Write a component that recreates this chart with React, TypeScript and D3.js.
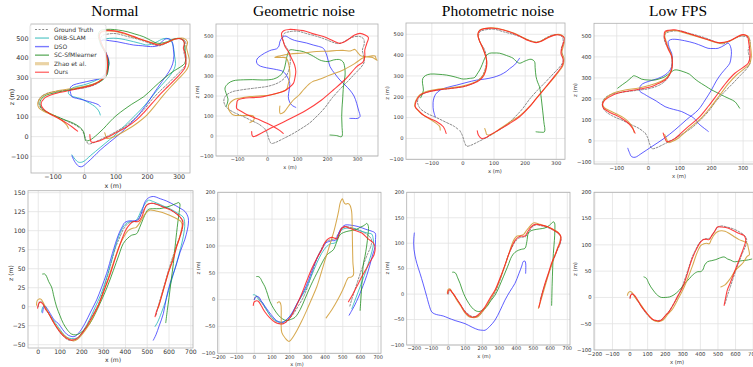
import React from 'react';
import * as d3 from 'd3';

type P = [number, number];

// ---------- labels / ticks ----------
const legendLabels = ['Ground Truth', 'ORB-SLAM', 'DSO', 'SC-SfMlearner', 'Zhao et al.', 'Ours'];
const seriesKeys = ['gt', 'orb', 'dso', 'sc', 'zhao', 'ours'];
const panelTitles = ['Normal', 'Geometric noise', 'Photometric noise', 'Low FPS'];
const topXTicks = [-100, 0, 100, 200, 300];
const topYTicks = [-100, 0, 100, 200, 300, 400, 500];
const normalBottomYTicks = [-50, -25, 0, 25, 50, 75, 100, 125, 150];
const normalBottomXTicks = [0, 100, 200, 300, 400, 500, 600, 700];
const wideBottomXTicks = [-200, -100, 0, 100, 200, 300, 400, 500, 600, 700];
const bottomYTicks = [-100, -50, 0, 50, 100, 150, 200];

// ---------- top row (x, z) ----------
const gtTop: P[] = [[-10,38],[-2,15],[5,-18],[12,-37],[25,-33],[50,-15],[80,8],[110,35],[140,65],[165,100],[190,140],[215,190],[240,232],[265,270],[290,310],[312,345],[322,370],[320,400],[316,430],[322,460],[320,485],[308,497],[290,497],[270,485],[250,468],[235,462],[215,470],[190,485],[160,500],[130,512],[100,524],[75,522],[55,512],[50,490],[55,462],[68,430],[75,395],[74,350],[62,300],[40,270],[5,250],[-40,240],[-90,230],[-120,220],[-140,200],[-146,175],[-138,145],[-115,120],[-85,100],[-55,78],[-28,58],[-14,42]];

const orbNormalTop: P[] = [[-40,-93],[-30,-115],[-19,-130],[-5,-128],[20,-95],[50,-55],[80,-15],[103,17],[140,75],[178,136],[205,185],[231,237],[255,280],[273,314],[285,345],[289,373],[286,410],[284,441],[280,470],[273,492],[260,500],[245,495],[231,483],[215,472],[199,466],[178,474],[156,483],[130,493],[103,500],[80,500],[61,495],[50,483],[52,462],[61,441],[72,405],[77,373],[75,340],[71,314],[55,298],[39,288],[15,272],[-3,263],[-25,255],[-40,246],[-50,232],[-51,220],[-45,210],[-35,203],[-10,192],[7,178],[25,162],[39,144],[47,125],[50,110]];
const dsoNormalTop: P[] = [[-40,-98],[-32,-125],[-19,-150],[-9,-153],[10,-130],[30,-100],[50,-68],[80,-28],[114,17],[140,58],[167,102],[195,160],[220,220],[245,278],[268,330],[280,370],[284,415],[282,445],[280,475],[272,495],[258,497],[245,482],[231,462],[210,458],[185,462],[156,466],[130,474],[103,483],[80,488],[61,491],[52,485],[54,465],[61,449],[70,420],[77,390],[76,355],[71,331],[62,312],[50,297],[30,288],[7,280],[-15,272],[-35,263],[-44,252],[-46,237],[-44,220],[-40,203],[-20,193],[-3,186],[15,178],[34,169],[44,162],[50,153]];
const scNormalTop: P[] = [[8,-22],[18,-17],[40,10],[60,40],[80,75],[103,110],[150,165],[188,203],[220,250],[252,296],[280,330],[306,356],[318,372],[322,400],[321,424],[318,455],[316,483],[308,497],[295,500],[278,494],[263,483],[245,476],[231,475],[210,490],[188,508],[160,522],[135,534],[108,542],[82,546],[62,544],[50,539],[44,520],[45,500],[52,470],[61,441],[70,410],[77,381],[75,345],[71,314],[62,295],[50,280],[25,266],[-3,254],[-40,240],[-78,229],[-100,221],[-120,212],[-135,196],[-141,178],[-141,160],[-136,144],[-120,126],[-99,110],[-70,90],[-35,68],[-15,48],[-3,25],[0,0],[3,-20]];
const zhaoNormalTop: P[] = [[64,20],[67,5],[70,-8],[85,-6],[110,12],[140,40],[170,72],[198,110],[225,160],[250,210],[275,255],[302,300],[322,335],[330,358],[333,390],[328,425],[324,455],[327,482],[314,500],[294,499],[268,483],[242,469],[216,477],[186,491],[156,507],[126,523],[96,536],[70,537],[52,530],[46,507],[50,486],[59,455],[68,420],[72,385],[70,330],[58,296],[30,268],[-10,252],[-60,240],[-105,226],[-135,205],[-148,175],[-146,150],[-128,128],[-98,108],[-72,82],[-57,60],[-51,42]];
const oursNormalTop: P[] = [[17,10],[18,-10],[22,-28],[40,-25],[70,-5],[100,20],[135,50],[165,85],[190,125],[215,170],[240,215],[265,255],[290,295],[310,330],[320,355],[322,390],[320,420],[314,450],[317,480],[305,498],[285,495],[260,478],[235,466],[210,478],[185,492],[155,510],[125,527],[95,538],[70,540],[52,532],[47,510],[50,490],[59,455],[69,420],[73,380],[70,320],[55,290],[25,262],[-10,248],[-56,232],[-100,216],[-128,195],[-138,165],[-130,140],[-112,118],[-85,95],[-58,70],[-38,48],[-22,28]];

const dsoGeoTop: P[] = [[94,143],[80,155],[72,175],[69,197],[72,230],[74,263],[66,295],[52,322],[30,332],[8,338],[-15,345],[-31,355],[-37,370],[-35,385],[-20,405],[0,422],[13,430],[30,436],[38,450],[41,472],[48,490],[58,500],[66,496],[74,488],[90,478],[108,472],[130,465],[152,455],[170,448],[186,438],[198,400],[208,347],[225,310],[241,280],[258,255],[274,230],[288,200],[297,163],[303,130],[308,97],[300,88],[285,88],[274,88]];
const scGeoTop: P[] = [[208,5],[230,2],[247,-3],[248,50],[247,97],[248,140],[250,180],[253,250],[258,300],[258,330],[252,370],[240,382],[219,380],[202,372],[185,375],[174,380],[160,392],[145,405],[119,422],[95,428],[74,430],[67,410],[63,388],[58,350],[52,322],[40,300],[20,285],[-14,280],[-50,282],[-81,281],[-115,276],[-132,262],[-142,240],[-138,212],[-132,185],[-134,165],[-138,148]];
const zhaoGeoTop: P[] = [[41,150],[40,130],[42,112],[55,120],[70,150],[86,180],[105,205],[119,230],[140,262],[150,272],[170,282],[208,305],[252,330],[290,362],[320,392],[345,400],[358,400],[362,385],[365,378],[350,392],[325,397],[310,402],[300,418],[291,433],[275,425],[255,428],[230,427],[200,424],[163,422],[120,415],[74,410],[40,400],[24,393],[45,393],[62,390],[71,355],[74,320],[74,297],[68,255],[63,233],[35,215],[8,205],[-30,200],[-59,197],[-90,190],[-114,180],[-128,160],[-131,147],[-125,120],[-114,105],[-80,102],[-48,100],[-46,80],[-59,67]];
const oursGeoTop: P[] = [[-53,22],[-52,5],[-48,-3],[-20,15],[8,38],[60,75],[130,130],[180,180],[219,230],[260,285],[297,347],[319,372],[324,400],[324,430],[330,460],[336,492],[325,505],[308,513],[290,505],[274,488],[255,470],[241,463],[220,475],[186,497],[150,512],[119,527],[90,532],[74,533],[55,528],[47,515],[47,497],[52,475],[58,447],[70,420],[80,388],[90,355],[94,322],[91,290],[86,263],[70,240],[52,222],[20,210],[-14,197],[-50,192],[-81,188],[-100,178],[-103,160],[-103,138],[-90,125],[-76,113],[-50,95],[-26,80],[0,62],[19,47],[40,28],[52,13]];

const dsoPhotoTop: P[] = [[182,385],[175,370],[166,353],[150,335],[139,321],[120,305],[97,293],[70,285],[44,280],[10,268],[-20,256],[-50,245],[-73,232],[-88,212],[-95,184],[-96,160],[-95,136],[-89,104]];
const scPhotoTop: P[] = [[235,32],[250,30],[262,32],[260,80],[256,136],[252,190],[246,248],[240,270],[235,296],[232,340],[230,369],[219,380],[200,372],[182,361],[170,372],[161,385],[140,398],[118,409],[100,410],[86,409],[75,398],[70,385],[62,355],[54,329],[45,308],[38,293],[20,288],[1,285],[-25,295],[-52,304],[-80,308],[-105,309],[-120,302],[-129,288],[-130,265],[-127,232],[-132,208],[-136,195]];
const zhaoPhotoTop: P[] = [[70,48],[74,30],[76,20],[90,18],[120,48],[150,78],[185,112],[215,155],[240,200],[270,252],[300,305],[322,352],[325,385],[318,410],[323,445],[328,478],[316,497],[300,499],[276,487],[250,467],[235,462],[210,472],[190,487],[161,507],[130,522],[97,531],[70,528],[54,520],[48,500],[52,473],[62,440],[70,409],[76,375],[75,345],[66,305],[50,280],[25,262],[-5,250],[-45,242],[-90,234],[-120,224],[-140,208],[-152,180],[-155,155],[-142,130],[-125,110],[-105,92],[-88,75],[-75,58],[-73,40]];
const oursPhotoTop: P[] = [[46,37],[50,15],[60,0],[75,5],[86,16],[120,45],[150,72],[182,104],[210,145],[235,190],[267,248],[295,300],[320,353],[322,380],[315,409],[320,445],[326,481],[315,495],[299,497],[275,485],[250,465],[235,460],[210,470],[190,485],[161,505],[130,520],[97,529],[70,527],[54,518],[48,500],[52,473],[62,440],[70,409],[76,375],[76,345],[68,305],[54,280],[30,262],[1,248],[-40,240],[-84,232],[-115,222],[-137,208],[-150,180],[-153,152],[-140,130],[-127,112],[-105,95],[-84,80],[-63,56],[-54,24]];

const dsoLowTop: P[] = [[-65,-35],[-60,-55],[-53,-75],[-42,-78],[-20,-58],[11,-27],[50,12],[84,52],[120,100],[158,148],[180,195],[200,243],[215,285],[232,322],[248,350],[258,370],[262,400],[263,425],[260,450],[253,465],[240,455],[221,441],[205,440],[189,441],[170,452],[147,465],[115,477],[84,484],[70,482],[63,473],[66,445],[74,417],[76,385],[74,354],[65,330],[53,314],[30,297],[0,283],[-18,272],[-26,259],[-27,245],[-26,235],[-12,222],[0,211],[25,190],[53,163],[80,150],[105,140],[125,125],[137,116],[150,100],[158,84],[170,68],[184,52],[190,45]];
const scLowTop: P[] = [[-97,251],[-82,268],[-68,283],[-55,300],[-47,310],[-35,305],[-21,294],[0,290],[21,290],[40,298],[53,306],[70,325],[84,338],[97,336],[110,330],[130,318],[145,298],[158,283],[180,262],[200,243],[220,228],[242,211],[258,200],[274,187],[282,172],[289,156]];
const zhaoLowTop: P[] = [[52,30],[58,8],[64,-8],[75,-3],[92,10],[128,58],[165,105],[198,162],[228,222],[255,275],[280,315],[305,345],[320,365],[326,400],[325,433],[322,465],[318,495],[308,503],[295,503],[280,493],[263,479],[240,468],[221,466],[190,480],[158,495],[120,512],[84,526],[65,524],[55,518],[52,500],[55,481],[64,440],[74,405],[76,370],[73,338],[62,308],[48,290],[25,275],[5,265],[-30,252],[-74,242],[-110,228],[-137,200],[-145,178],[-140,160],[-120,142],[-100,128],[-80,112],[-62,90],[-50,65],[-45,40]];
const oursLowTop: P[] = [[47,37],[52,15],[58,-3],[70,0],[85,12],[120,60],[158,108],[190,165],[221,227],[248,280],[274,322],[300,350],[316,370],[322,400],[321,433],[318,465],[314,497],[305,505],[295,505],[280,495],[263,481],[240,470],[221,468],[190,482],[158,497],[120,515],[84,529],[65,527],[53,521],[50,500],[53,481],[62,440],[74,402],[76,370],[74,338],[65,310],[53,290],[30,272],[11,259],[-30,246],[-74,235],[-110,220],[-137,195],[-145,175],[-142,156],[-125,138],[-105,124],[-85,108],[-63,84],[-50,60],[-42,37]];

// ---------- bottom row (x, z) ----------
const gtBottom: P[] = [[0,0],[4,5],[10,7],[20,5],[35,-3],[50,-10],[70,-20],[95,-32],[120,-40],[140,-44],[160,-44],[180,-42],[200,-35],[222,-26],[250,-11],[278,5],[305,28],[332,55],[355,78],[375,92],[395,104],[415,110],[440,112],[455,113],[470,120],[485,128],[500,134],[520,136],[550,134],[590,130],[625,124],[650,118],[662,112],[662,104],[655,96],[640,85],[620,68],[600,50],[580,30],[565,15],[552,2],[540,-12]];

const orbNormalBottom: P[] = [[15,-7],[22,0],[31,1],[40,-5],[55,-12],[80,-22],[105,-32],[130,-40],[160,-42],[185,-40],[210,-30],[235,-17],[262,0],[290,18],[318,42],[345,70],[370,93],[395,107],[420,112],[440,112],[455,116],[470,125],[485,133],[505,140],[530,138],[570,133],[610,128],[645,122],[665,118],[672,110],[670,100],[660,85],[645,68],[625,48],[605,28],[585,8],[565,-8],[548,-20],[536,-26]];
const dsoNormalBottom: P[] = [[20,-8],[24,-2],[31,1],[40,-2],[55,-9],[75,-18],[92,-22],[112,-30],[130,-36],[150,-39],[168,-39],[190,-33],[214,-22],[240,-7],[268,9],[290,25],[314,44],[340,70],[367,94],[385,105],[398,111],[420,113],[444,113],[459,115],[475,125],[490,138],[505,143],[528,145],[560,142],[589,139],[630,133],[660,128],[674,125],[688,117],[689,110],[684,101],[672,88],[651,72],[630,52],[605,31],[588,12],[574,-9],[555,-25],[540,-37],[528,-44]];
const scNormalBottom: P[] = [[20,43],[30,43],[38,40],[48,33],[61,26],[72,13],[84,0],[100,-12],[115,-22],[135,-31],[153,-36],[172,-37],[191,-35],[215,-29],[237,-22],[260,-10],[283,4],[315,25],[345,48],[370,68],[390,83],[410,90],[428,94],[451,96],[465,104],[482,116],[495,124],[505,128],[530,129],[558,129],[600,132],[635,136],[645,137],[650,135],[648,128],[640,110],[630,85],[620,57],[610,35],[600,12],[592,-5],[585,-21]];
const zhaoNormalBottom: P[] = [[-8,2],[-5,8],[2,10],[12,10],[22,6],[35,-2],[50,-10],[70,-20],[95,-30],[120,-38],[145,-43],[160,-45],[180,-43],[205,-35],[230,-25],[258,-10],[285,8],[315,32],[345,58],[372,80],[395,93],[412,100],[430,103],[448,104],[460,108],[475,115],[490,122],[510,127],[540,126],[570,124],[605,120],[640,115],[655,112],[660,108],[656,100],[645,88],[630,75],[612,58],[592,40],[575,23],[562,10],[550,-2]];
const oursNormalBottom: P[] = [[-3,-2],[2,4],[8,6],[20,4],[35,-4],[46,-8],[65,-18],[84,-27],[105,-35],[122,-40],[140,-43],[153,-44],[176,-42],[200,-35],[222,-26],[250,-12],[276,2],[300,20],[329,42],[355,65],[383,88],[400,100],[413,106],[436,112],[459,112],[475,118],[486,127],[498,134],[521,136],[550,134],[574,131],[610,127],[640,121],[651,118],[663,113],[662,105],[658,100],[648,90],[636,80],[620,63],[597,45],[580,28],[567,15],[555,3],[544,-5],[536,-13]];

const orbGeoBottom: P[] = [[-6,9],[2,9],[10,7],[20,2],[30,-2],[42,-4],[60,-14],[80,-25],[98,-33],[125,-40],[155,-42],[180,-38],[211,-27],[245,-6],[287,17],[320,42],[353,68],[380,86],[409,99],[430,104],[457,106],[475,118],[494,130],[520,133],[551,133],[600,128],[640,124],[664,122],[672,113],[674,105],[665,90],[645,68],[625,48],[598,24],[575,4],[551,-17]];
const dsoGeoBottom: P[] = [[0,0],[8,5],[13,6],[25,5],[40,-3],[55,-10],[70,-17],[95,-28],[126,-39],[145,-42],[164,-42],[190,-35],[211,-26],[245,-5],[277,14],[305,35],[334,61],[362,82],[391,99],[405,106],[419,108],[440,110],[457,110],[470,118],[485,130],[500,136],[513,139],[540,139],[589,136],[630,131],[660,128],[683,124],[685,112],[683,99],[670,85],[660,73],[645,55],[625,35],[605,18],[589,5],[565,-12],[548,-22],[536,-29]];
const scGeoBottom: P[] = [[13,43],[22,43],[32,41],[45,33],[60,24],[75,10],[89,-4],[110,-17],[136,-29],[160,-36],[183,-39],[205,-37],[230,-33],[260,-18],[287,2],[320,27],[362,55],[385,70],[409,83],[428,88],[447,93],[465,107],[485,121],[504,125],[535,128],[570,130],[600,135],[620,138],[636,142],[645,136],[642,120],[635,100],[625,80],[617,68],[610,40],[605,15],[598,-20]];
const zhaoGeoBottom: P[] = [[130,-6],[140,-4],[145,-5],[151,-11],[152,-35],[155,-61],[175,-72],[196,-78],[218,-70],[240,-58],[268,-40],[296,-20],[325,2],[353,24],[378,50],[400,74],[420,95],[438,114],[452,130],[466,149],[477,166],[485,180],[493,186],[498,188],[503,184],[509,180],[518,178],[528,179],[536,178],[542,175],[548,168],[551,161],[553,140],[555,99],[557,70],[560,46],[548,42],[532,41],[505,22],[475,2],[440,-18],[406,-34]];
const oursGeoBottom: P[] = [[-6,-11],[-2,-5],[4,-3],[15,-2],[23,-3],[40,-12],[60,-23],[85,-33],[117,-42],[140,-45],[164,-45],[190,-38],[211,-29],[240,-10],[268,11],[300,38],[325,58],[355,78],[381,93],[395,104],[409,111],[425,115],[438,116],[452,115],[466,113],[480,123],[494,133],[513,136],[540,133],[570,129],[608,124],[640,114],[674,105],[683,96],[678,85],[668,78],[655,71],[632,57],[608,43],[580,25],[555,9],[532,-4]];

const dsoPhotoBottom: P[] = [[-200,120],[-203,110],[-204,100],[-202,88],[-196,75],[-185,60],[-167,41],[-148,20],[-127,-5],[-110,-25],[-98,-35],[-80,-39],[-59,-41],[-30,-43],[0,-47],[40,-52],[98,-58],[140,-65],[176,-70],[200,-71],[216,-71],[245,-63],[275,-51],[305,-32],[333,-12],[362,5],[392,21],[415,40],[432,55],[441,64],[450,65],[455,61],[456,52],[455,41]];
const scPhotoBottom: P[] = [[25,43],[33,43],[43,41],[55,32],[69,21],[82,8],[98,-5],[120,-18],[140,-27],[157,-32],[172,-34],[186,-34],[205,-30],[225,-25],[250,-13],[275,-2],[300,15],[324,34],[350,55],[373,74],[392,82],[412,86],[430,88],[451,90],[462,103],[471,120],[485,124],[500,126],[535,128],[569,130],[595,135],[618,142],[625,140],[627,126],[624,105],[618,80],[614,50],[611,20],[608,-22]];
const zhaoPhotoBottom: P[] = [[-6,2],[-3,8],[2,10],[10,10],[20,5],[35,-3],[50,-12],[72,-23],[98,-37],[120,-44],[140,-46],[160,-46],[175,-44],[195,-37],[220,-26],[248,-9],[278,8],[308,33],[335,58],[357,80],[372,96],[388,108],[405,114],[425,115],[445,118],[460,125],[475,131],[490,137],[505,140],[540,137],[588,132],[625,126],[650,120],[660,113],[655,102],[640,88],[620,70],[600,50],[580,28],[560,5],[545,-12],[530,-28]];
const oursPhotoBottom: P[] = [[-4,1],[0,6],[4,8],[12,8],[20,4],[35,-2],[49,-9],[70,-20],[98,-35],[120,-42],[137,-45],[155,-45],[167,-43],[190,-36],[216,-25],[245,-8],[275,8],[305,32],[333,57],[355,78],[373,93],[392,105],[412,112],[430,114],[451,114],[470,124],[490,133],[510,137],[540,136],[588,132],[620,126],[647,120],[660,115],[663,110],[657,100],[647,93],[630,78],[608,61],[590,42],[569,21],[550,-2],[533,-26]];

const scLowBottom: P[] = [[79,39],[86,38],[94,36],[105,28],[118,20],[131,14],[150,6],[165,2],[178,0],[200,0],[225,1],[250,5],[281,14],[310,26],[338,36],[360,44],[385,49],[400,49],[413,52],[425,62],[441,68],[465,70],[488,72],[510,75],[535,77],[555,73],[572,71],[590,68],[600,68],[620,69],[638,70],[665,71],[692,73]];
const zhaoLowBottom: P[] = [[-15,4],[-10,9],[-3,11],[5,11],[15,8],[25,2],[40,-5],[56,-11],[80,-23],[113,-37],[135,-44],[159,-46],[175,-45],[188,-43],[215,-32],[244,-21],[270,-5],[300,14],[330,38],[356,61],[380,84],[403,99],[420,102],[435,103],[450,102],[462,110],[480,120],[497,125],[520,127],[540,126],[563,122],[590,116],[620,110],[650,106],[666,103],[672,95],[679,82],[675,80],[666,78],[640,65],[600,52],[570,36],[540,24],[516,20]];
const oursLowBottom: P[] = [[0,-2],[4,4],[9,6],[18,6],[30,2],[45,-6],[66,-18],[90,-28],[113,-37],[130,-42],[150,-44],[165,-45],[178,-43],[200,-35],[222,-27],[244,-15],[270,2],[300,20],[325,44],[347,68],[375,90],[403,106],[418,110],[432,111],[450,110],[465,118],[480,125],[497,134],[520,134],[544,133],[570,130],[600,125],[625,121],[647,118],[657,112],[657,106],[650,98],[638,87],[615,67],[591,46],[570,28],[553,14],[544,0],[535,-15]];

// ---------- styles ----------
const STYLE: Record<string, { c: string; w: number; o: number; dash?: string; lc: string; lw: number }> = {
  gt: { c: '#6e6e6e', w: 0.9, o: 0.9, dash: '2,1.6', lc: '#8a8a8a', lw: 1 },
  orb: { c: '#1fb8b8', w: 1.0, o: 0.8, lc: '#6fcfcf', lw: 1.4 },
  dso: { c: '#2a2aff', w: 1.0, o: 0.75, lc: '#7a7aff', lw: 1.4 },
  sc: { c: '#1f8f1f', w: 1.0, o: 0.8, lc: '#6ab26a', lw: 1.4 },
  zhao: { c: '#d09a30', w: 1.05, o: 0.85, lc: '#ead3a4', lw: 3.2 },
  ours: { c: '#ff1f1f', w: 1.1, o: 0.85, lc: '#ff7070', lw: 1.4 },
};

type Panel = {
  id: string; l: number; r: number; t: number; b: number;
  xd: [number, number]; yd: [number, number];
  xt: number[]; yt: number[]; fs: number;
  title?: string; titleX?: number;
  xl: [number, number]; yl: [number, number];
  legend?: boolean;
  series: { k: string; d: P[] }[];
};

const panels: Panel[] = [
  { id: 'p1', l: 31, r: 190, t: 24, b: 173, xd: [-170, 335], yd: [-185, 573], xt: topXTicks, yt: topYTicks, fs: 6.4,
    title: panelTitles[0], titleX: 115, xl: [113, 185.5], yl: [12, 97], legend: true,
    series: [{ k: 'gt', d: gtTop }, { k: 'orb', d: orbNormalTop }, { k: 'dso', d: dsoNormalTop }, { k: 'sc', d: scNormalTop }, { k: 'zhao', d: zhaoNormalTop }, { k: 'ours', d: oursNormalTop }] },
  { id: 'p2', l: 216, r: 378, t: 24, b: 156, xd: [-172, 368], yd: [-100, 560], xt: topXTicks, yt: topYTicks, fs: 5,
    title: panelTitles[1], titleX: 304, xl: [290, 167.5], yl: [197, 92],
    series: [{ k: 'gt', d: gtTop }, { k: 'dso', d: dsoGeoTop }, { k: 'sc', d: scGeoTop }, { k: 'zhao', d: zhaoGeoTop }, { k: 'ours', d: oursGeoTop }] },
  { id: 'p3', l: 406, r: 565, t: 23, b: 159.3, xd: [-183, 328], yd: [-100, 554], xt: topXTicks, yt: topYTicks, fs: 5.2,
    title: panelTitles[2], titleX: 498, xl: [495, 171], yl: [387, 93],
    series: [{ k: 'gt', d: gtTop }, { k: 'dso', d: dsoPhotoTop }, { k: 'sc', d: scPhotoTop }, { k: 'zhao', d: zhaoPhotoTop }, { k: 'ours', d: oursPhotoTop }] },
  { id: 'p4', l: 594, r: 757, t: 23.3, b: 164, xd: [-172, 344], yd: [-110, 560], xt: topXTicks, yt: topYTicks, fs: 5.3,
    title: panelTitles[3], titleX: 678, xl: [679, 176], yl: [575, 90],
    series: [{ k: 'gt', d: gtTop }, { k: 'dso', d: dsoLowTop }, { k: 'sc', d: scLowTop }, { k: 'zhao', d: zhaoLowTop }, { k: 'ours', d: oursLowTop }] },
  { id: 'p5', l: 28, r: 193, t: 190.7, b: 348, xd: [-47, 710], yd: [-54.3, 152.6], xt: normalBottomXTicks, yt: normalBottomYTicks, fs: 6.1,
    xl: [113, 360], yl: [11, 273],
    series: [{ k: 'gt', d: gtBottom }, { k: 'orb', d: orbNormalBottom }, { k: 'dso', d: dsoNormalBottom }, { k: 'sc', d: scNormalBottom }, { k: 'zhao', d: zhaoNormalBottom }, { k: 'ours', d: oursNormalBottom }] },
  { id: 'p6', l: 217.7, r: 381, t: 192.3, b: 353.3, xd: [-207, 716], yd: [-100, 200], xt: wideBottomXTicks, yt: bottomYTicks, fs: 5,
    xl: [297, 364], yl: [198, 268],
    series: [{ k: 'gt', d: gtBottom }, { k: 'orb', d: orbGeoBottom }, { k: 'dso', d: dsoGeoBottom }, { k: 'sc', d: scGeoBottom }, { k: 'zhao', d: zhaoGeoBottom }, { k: 'ours', d: oursGeoBottom }] },
  { id: 'p7', l: 406.7, r: 570, t: 192.3, b: 345, xd: [-245, 716], yd: [-100, 200], xt: wideBottomXTicks, yt: bottomYTicks, fs: 5,
    xl: [484, 356], yl: [387, 268],
    series: [{ k: 'gt', d: gtBottom }, { k: 'dso', d: dsoPhotoBottom }, { k: 'sc', d: scPhotoBottom }, { k: 'zhao', d: zhaoPhotoBottom }, { k: 'ours', d: oursPhotoBottom }] },
  { id: 'p8', l: 594, r: 760, t: 192.3, b: 350, xd: [-205, 739], yd: [-100, 200], xt: wideBottomXTicks, yt: bottomYTicks, fs: 5.3,
    xl: [677, 362], yl: [575, 269],
    series: [{ k: 'gt', d: gtBottom }, { k: 'sc', d: scLowBottom }, { k: 'zhao', d: zhaoLowBottom }, { k: 'ours', d: oursLowBottom }] },
];

const fmt = (v: number) => (v < 0 ? '\u2212' + Math.abs(v) : String(v));
const SANS = 'DejaVu Sans, sans-serif';

function PanelView({ p }: { p: Panel }) {
  const x = d3.scaleLinear().domain(p.xd).range([p.l, p.r]);
  const y = d3.scaleLinear().domain(p.yd).range([p.b, p.t]);
  const line = d3.line<P>().x((d) => x(d[0])).y((d) => y(d[1])).curve(d3.curveCatmullRom.alpha(0.5));
  const xt = p.xt.filter((v) => x(v) >= p.l - 0.5 && x(v) <= p.r + 0.5);
  const yt = p.yt.filter((v) => y(v) <= p.b + 0.5 && y(v) >= p.t - 0.5);
  return (
    <g>
      <defs>
        <clipPath id={'clip-' + p.id}>
          <rect x={p.l} y={p.t} width={p.r - p.l} height={p.b - p.t} />
        </clipPath>
      </defs>
      <rect x={p.l} y={p.t} width={p.r - p.l} height={p.b - p.t} fill="#fff" />
      {xt.map((v) => (
        <line key={'gx' + v} x1={x(v)} x2={x(v)} y1={p.t} y2={p.b} stroke="#e2e2e2" strokeWidth={0.8} />
      ))}
      {yt.map((v) => (
        <line key={'gy' + v} x1={p.l} x2={p.r} y1={y(v)} y2={y(v)} stroke="#e2e2e2" strokeWidth={0.8} />
      ))}
      <g clipPath={`url(#clip-${p.id})`}>
        {p.series.map((s) => {
          const st = STYLE[s.k];
          return (
            <path key={s.k} d={line(s.d) || ''} fill="none" stroke={st.c} strokeWidth={st.w} strokeOpacity={st.o}
              strokeDasharray={st.dash} strokeLinejoin="round" strokeLinecap="round" />
          );
        })}
      </g>
      <rect x={p.l} y={p.t} width={p.r - p.l} height={p.b - p.t} fill="none" stroke="#b0b0b0" strokeWidth={0.8} />
      {xt.map((v) => (
        <text key={'tx' + v} x={x(v)} y={p.b + 1.6 + p.fs * 0.74} fontSize={p.fs} fontFamily={SANS} fill="#333" textAnchor="middle">{fmt(v)}</text>
      ))}
      {yt.map((v) => (
        <text key={'ty' + v} x={p.l - 2.5} y={y(v) + p.fs * 0.36} fontSize={p.fs} fontFamily={SANS} fill="#333" textAnchor="end">{fmt(v)}</text>
      ))}
      <text x={p.xl[0]} y={p.xl[1] + p.fs * 0.36} fontSize={p.fs} fontFamily={SANS} fill="#333" textAnchor="middle">x (m)</text>
      <text transform={`translate(${p.yl[0]},${p.yl[1]}) rotate(-90)`} y={p.fs * 0.36} fontSize={p.fs} fontFamily={SANS} fill="#333" textAnchor="middle">z (m)</text>
      {p.title && (
        <text x={p.titleX} y={16} fontSize={15.5} fontFamily="Liberation Serif, Times New Roman, serif" fill="#000" textAnchor="middle">{p.title}</text>
      )}
      {p.legend && <Legend x0={p.l - 1} y0={p.t + 0.5} />}
    </g>
  );
}

function Legend({ x0, y0 }: { x0: number; y0: number }) {
  const rowH = 8.55;
  return (
    <g>
      <rect x={x0} y={y0} width={76} height={54} rx={2} fill="#fff" fillOpacity={0.85} stroke="#d6d6d6" strokeWidth={0.7} />
      {legendLabels.map((lab, i) => {
        const st = STYLE[seriesKeys[i]];
        const yy = y0 + 5 + i * rowH;
        return (
          <g key={lab}>
            <line x1={x0 + 5} x2={x0 + 19} y1={yy} y2={yy} stroke={st.lc} strokeWidth={st.lw} strokeDasharray={st.dash} />
            <text x={x0 + 24} y={yy + 2.1} fontSize={6} fontFamily={SANS} fill="#333">{lab}</text>
          </g>
        );
      })}
    </g>
  );
}

export default function App() {
  return (
    <svg width={753} height={367} viewBox="0 0 753 367" style={{ position: 'absolute', left: 0, top: 0, background: '#fff' }}>
      <rect x={0} y={0} width={753} height={367} fill="#fff" />
      {panels.map((p) => (
        <PanelView key={p.id} p={p} />
      ))}
    </svg>
  );
}
